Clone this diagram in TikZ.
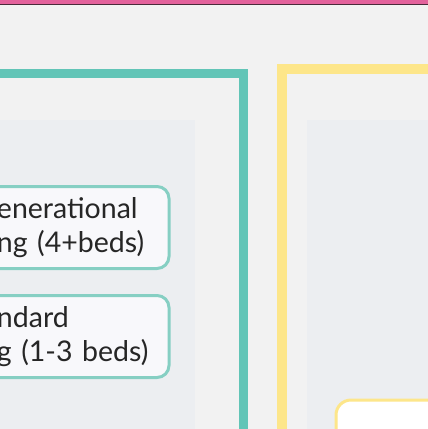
\documentclass[tikz,border=0pt]{standalone}
\usepackage{fontspec}
\setmainfont{Lato}
\definecolor{bgcol}{HTML}{F2F2F2}
\definecolor{panelcol}{HTML}{ECEEF1}
\definecolor{pinkcol}{HTML}{E3629C}
\definecolor{darkcol}{HTML}{4A2A3A}
\definecolor{tealcol}{HTML}{62C5B7}
\definecolor{teallight}{HTML}{86CFC3}
\definecolor{yellowcol}{HTML}{FDE68A}
\definecolor{boxfill}{HTML}{F8F8FB}

\begin{document}
\begin{tikzpicture}[x=1pt, y=-1pt,
  frame/.style={line width=9pt},
  panel/.style={fill=panelcol, draw=none},
  housebox/.style={draw=teallight, fill=boxfill, line width=3pt, rounded corners=12pt,
    minimum width=189pt, minimum height=82pt, inner xsep=0pt, inner ysep=0pt,
    text width=155pt, align=left, font=\fontsize{28.5}{34}\selectfont, text=black!85},
  ybox/.style={draw=yellowcol, fill=white, line width=3pt, rounded corners=15pt,
    minimum width=140pt, minimum height=70pt}]
  \useasboundingbox (0,0) rectangle (428,429);
  \fill[bgcol] (0,0) rectangle (428,429);
  % top band
  \fill[pinkcol] (-10,-10) rectangle (438,4);
  \draw[darkcol, line width=1.5pt] (-10,4.7) -- (438,4.7);
  % left group
  \draw[frame, draw=tealcol, fill=bgcol] (-30,73) rectangle (243,460);
  \path[panel] (-30,120) rectangle (195,460);
  % right group
  \draw[frame, line width=10pt, draw=yellowcol, fill=bgcol] (282,69) rectangle (460,460);
  \path[panel] (307,120) rectangle (460,460);
  % nodes
  \node[housebox] (multi) at (74.5,227.5) {enerational\\ng (4+beds)};
  \node[housebox] (std) at (74.5,336.5) {ndard\\g (1-3 beds)};
  \node[ybox, anchor=north west] (yel) at (334.5,398.5) {};
\end{tikzpicture}
\end{document}
